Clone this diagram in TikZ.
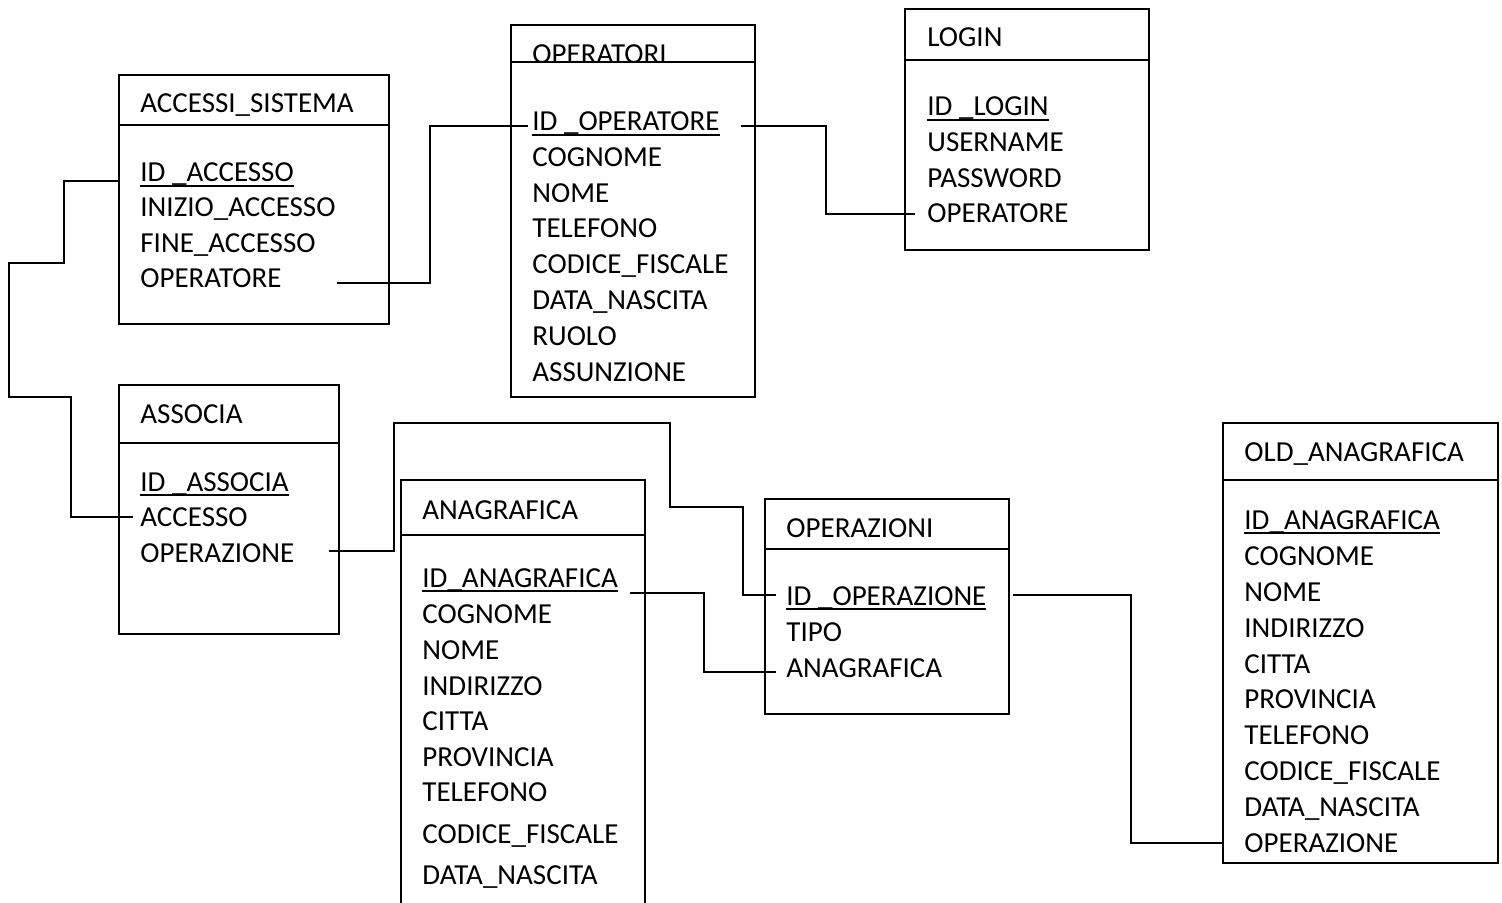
\documentclass[tikz,border=0pt]{standalone}
\usepackage{fontspec}
\setmainfont{Carlito}

\tikzset{
    tabella/.style={draw, line width=1pt},
    corpo/.style={draw, line width=1pt, fill=white},
    campo/.style={anchor=base west, inner sep=0pt, font=\fontsize{14.5pt}{17pt}\selectfont},
    legame/.style={line width=1pt},
}
% chiave primaria sottolineata
\newcommand{\chiave}[1]{\setbox0\hbox{#1}\rlap{\rule[-2.5pt]{\wd0}{1pt}}\box0}

\begin{document}
\begin{tikzpicture}[x=0.5pt, y=-0.5pt]
    \useasboundingbox (0,0) rectangle (1502,903);

    % ACCESSI_SISTEMA
    \draw[tabella] (119,75) rectangle (389,125);
    \node[campo] (as) at (140,113) {ACCESSI\_SISTEMA};
    \draw[corpo] (119,125) rectangle (389,324);
    \node[campo] (as-id) at (140,182) {\chiave{ID \_ACCESSO}};
    \node[campo] (as-ini) at (140,217) {INIZIO\_ACCESSO};
    \node[campo] (as-fin) at (140,253) {FINE\_ACCESSO};
    \node[campo] (as-op) at (140,288) {OPERATORE};

    % OPERATORI
    \draw[tabella] (511,25) rectangle (755,62);
    \node[campo] (op) at (532,64) {OPERATORI};
    \draw[corpo] (511,62) rectangle (755,397);
    \node[campo] (op-id) at (532,131) {\chiave{ID \_OPERATORE}};
    \node[campo] (op-cog) at (532,167) {COGNOME};
    \node[campo] (op-nom) at (532,203) {NOME};
    \node[campo] (op-tel) at (532,238) {TELEFONO};
    \node[campo] (op-cf) at (532,274) {CODICE\_FISCALE};
    \node[campo] (op-dn) at (532,310) {DATA\_NASCITA};
    \node[campo] (op-ru) at (532,345) {RUOLO};
    \node[campo] (op-as) at (532,381) {ASSUNZIONE};

    % LOGIN
    \draw[tabella] (905,9) rectangle (1149,60);
    \node[campo] (lg) at (927,47) {LOGIN};
    \draw[corpo] (905,60) rectangle (1149,250);
    \node[campo] (lg-id) at (927,116) {\chiave{ID \_LOGIN}};
    \node[campo] (lg-us) at (927,152) {USERNAME};
    \node[campo] (lg-pw) at (927,188) {PASSWORD};
    \node[campo] (lg-op) at (927,223) {OPERATORE};

    % ASSOCIA
    \draw[tabella] (119,385) rectangle (339,443);
    \node[campo] (ac) at (140,423) {ASSOCIA};
    \draw[corpo] (119,443) rectangle (339,634);
    \node[campo] (ac-id) at (140,491) {\chiave{ID \_ASSOCIA}};
    \node[campo] (ac-acc) at (140,526) {ACCESSO};
    \node[campo] (ac-opz) at (140,562) {OPERAZIONE};

    % ANAGRAFICA
    \draw[tabella] (401,480) rectangle (645,535);
    \node[campo] (an) at (422,519) {ANAGRAFICA};
    \draw[corpo] (401,535) rectangle (645,905);
    \node[campo] (an-id) at (422,587) {\chiave{ID\_ANAGRAFICA}};
    \node[campo] (an-cog) at (422,623) {COGNOME};
    \node[campo] (an-nom) at (422,659) {NOME};
    \node[campo] (an-ind) at (422,695) {INDIRIZZO};
    \node[campo] (an-cit) at (422,730) {CITTA};
    \node[campo] (an-pro) at (422,766) {PROVINCIA};
    \node[campo] (an-tel) at (422,801) {TELEFONO};
    \node[campo] (an-cf) at (422,843) {CODICE\_FISCALE};
    \node[campo] (an-dn) at (422,884) {DATA\_NASCITA};

    % OPERAZIONI
    \draw[tabella] (765,499) rectangle (1009,549);
    \node[campo] (oz) at (786,537) {OPERAZIONI};
    \draw[corpo] (765,549) rectangle (1009,714);
    \node[campo] (oz-id) at (786,605) {\chiave{ID \_OPERAZIONE}};
    \node[campo] (oz-tip) at (786,641) {TIPO};
    \node[campo] (oz-an) at (786,677) {ANAGRAFICA};

    % OLD_ANAGRAFICA
    \draw[tabella] (1223,423) rectangle (1498,480);
    \node[campo] (od) at (1244,461) {OLD\_ANAGRAFICA};
    \draw[corpo] (1223,480) rectangle (1498,863);
    \node[campo] (od-id) at (1244,529) {\chiave{ID\_ANAGRAFICA}};
    \node[campo] (od-cog) at (1244,565) {COGNOME};
    \node[campo] (od-nom) at (1244,601) {NOME};
    \node[campo] (od-ind) at (1244,637) {INDIRIZZO};
    \node[campo] (od-cit) at (1244,673) {CITTA};
    \node[campo] (od-pro) at (1244,708) {PROVINCIA};
    \node[campo] (od-tel) at (1244,744) {TELEFONO};
    \node[campo] (od-cf) at (1244,780) {CODICE\_FISCALE};
    \node[campo] (od-dn) at (1244,816) {DATA\_NASCITA};
    \node[campo] (od-op) at (1244,852) {OPERAZIONE};

    % legami
    \draw[legame] ([xshift=27.5pt]as-op.mid east) -- ++(93,0) |- ([xshift=-2pt]op-id.mid west);
    \draw[legame] ([xshift=10.5pt]op-id.mid east) -- ++(85,0) |- ([xshift=-6pt,yshift=2pt]lg-op.mid west);
    \draw[legame] ([xshift=-10.5pt,yshift=-2pt]as-id.mid west) -- ++(-55,0) |- (9,263) |- (71,397) |- ([xshift=-3.5pt,yshift=2pt]ac-acc.mid west);
    \draw[legame] ([xshift=17pt,yshift=3pt]ac-opz.mid east) -- ++(65,0) |- (670,423) |- (743,507) |- ([xshift=-5pt,yshift=2.5pt]oz-id.mid west);
    \draw[legame] ([xshift=6pt,yshift=-3pt]an-id.base east) -- ++(74,0) |- ([xshift=-5pt]oz-an.mid west);
    \draw[legame] ([xshift=13pt,yshift=2.5pt]oz-id.mid east) -- ++(118,0) |- ([xshift=-10.5pt,yshift=2pt]od-op.mid west);
\end{tikzpicture}
\end{document}
